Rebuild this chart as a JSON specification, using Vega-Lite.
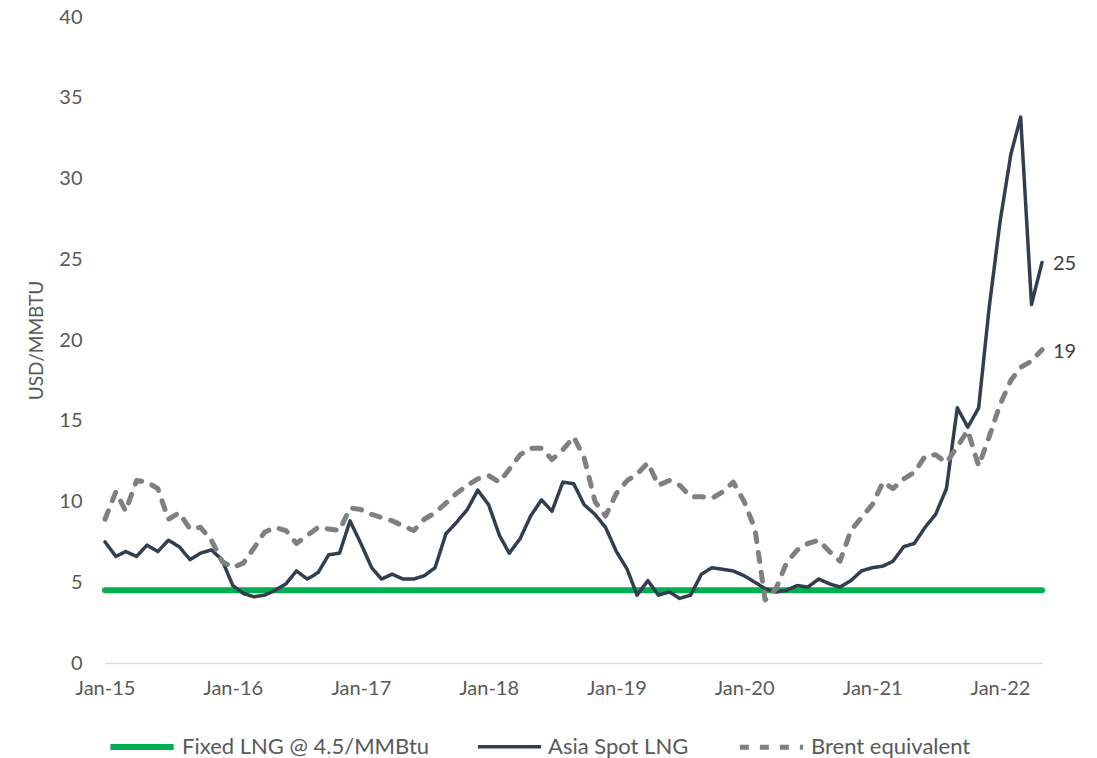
{
  "$schema": "https://vega.github.io/schema/vega-lite/v6.json",
  "width": 937,
  "height": 646,
  "autosize": {"type": "none"},
  "padding": {"left": 105, "top": 17, "right": 55, "bottom": 95},
  "background": "white",
  "config": {
    "view": {"stroke": null},
    "font": "Lato",
    "axis": {"labelFont": "Lato", "titleFont": "Lato", "labelColor": "#595959", "titleColor": "#595959", "grid": false, "ticks": false},
    "legend": {"labelFont": "Lato", "labelColor": "#595959"}
  },
  "data": {
    "values": [
      {"m": "2015-01-01", "fixed": 4.5, "asia": 7.5, "brent": 8.9},
      {"m": "2015-02-01", "fixed": 4.5, "asia": 6.6, "brent": 10.6},
      {"m": "2015-03-01", "fixed": 4.5, "asia": 6.9, "brent": 9.4},
      {"m": "2015-04-01", "fixed": 4.5, "asia": 6.6, "brent": 11.3},
      {"m": "2015-05-01", "fixed": 4.5, "asia": 7.3, "brent": 11.2},
      {"m": "2015-06-01", "fixed": 4.5, "asia": 6.9, "brent": 10.8},
      {"m": "2015-07-01", "fixed": 4.5, "asia": 7.6, "brent": 8.9},
      {"m": "2015-08-01", "fixed": 4.5, "asia": 7.2, "brent": 9.3},
      {"m": "2015-09-01", "fixed": 4.5, "asia": 6.4, "brent": 8.3},
      {"m": "2015-10-01", "fixed": 4.5, "asia": 6.8, "brent": 8.4},
      {"m": "2015-11-01", "fixed": 4.5, "asia": 7.0, "brent": 7.6},
      {"m": "2015-12-01", "fixed": 4.5, "asia": 6.4, "brent": 6.3},
      {"m": "2016-01-01", "fixed": 4.5, "asia": 4.8, "brent": 5.9},
      {"m": "2016-02-01", "fixed": 4.5, "asia": 4.3, "brent": 6.2},
      {"m": "2016-03-01", "fixed": 4.5, "asia": 4.1, "brent": 7.1},
      {"m": "2016-04-01", "fixed": 4.5, "asia": 4.2, "brent": 8.1},
      {"m": "2016-05-01", "fixed": 4.5, "asia": 4.5, "brent": 8.4},
      {"m": "2016-06-01", "fixed": 4.5, "asia": 4.9, "brent": 8.2},
      {"m": "2016-07-01", "fixed": 4.5, "asia": 5.7, "brent": 7.4},
      {"m": "2016-08-01", "fixed": 4.5, "asia": 5.2, "brent": 7.9},
      {"m": "2016-09-01", "fixed": 4.5, "asia": 5.6, "brent": 8.4},
      {"m": "2016-10-01", "fixed": 4.5, "asia": 6.7, "brent": 8.3},
      {"m": "2016-11-01", "fixed": 4.5, "asia": 6.8, "brent": 8.2},
      {"m": "2016-12-01", "fixed": 4.5, "asia": 8.8, "brent": 9.6},
      {"m": "2017-01-01", "fixed": 4.5, "asia": 7.4, "brent": 9.5},
      {"m": "2017-02-01", "fixed": 4.5, "asia": 5.9, "brent": 9.2},
      {"m": "2017-03-01", "fixed": 4.5, "asia": 5.2, "brent": 9.0},
      {"m": "2017-04-01", "fixed": 4.5, "asia": 5.5, "brent": 8.8},
      {"m": "2017-05-01", "fixed": 4.5, "asia": 5.2, "brent": 8.5},
      {"m": "2017-06-01", "fixed": 4.5, "asia": 5.2, "brent": 8.2},
      {"m": "2017-07-01", "fixed": 4.5, "asia": 5.4, "brent": 8.9},
      {"m": "2017-08-01", "fixed": 4.5, "asia": 5.9, "brent": 9.3},
      {"m": "2017-09-01", "fixed": 4.5, "asia": 8.0, "brent": 9.9},
      {"m": "2017-10-01", "fixed": 4.5, "asia": 8.7, "brent": 10.5},
      {"m": "2017-11-01", "fixed": 4.5, "asia": 9.5, "brent": 11.0},
      {"m": "2017-12-01", "fixed": 4.5, "asia": 10.7, "brent": 11.4},
      {"m": "2018-01-01", "fixed": 4.5, "asia": 9.8, "brent": 11.6},
      {"m": "2018-02-01", "fixed": 4.5, "asia": 7.9, "brent": 11.2},
      {"m": "2018-03-01", "fixed": 4.5, "asia": 6.8, "brent": 12.0},
      {"m": "2018-04-01", "fixed": 4.5, "asia": 7.7, "brent": 12.9},
      {"m": "2018-05-01", "fixed": 4.5, "asia": 9.1, "brent": 13.3},
      {"m": "2018-06-01", "fixed": 4.5, "asia": 10.1, "brent": 13.3},
      {"m": "2018-07-01", "fixed": 4.5, "asia": 9.4, "brent": 12.6},
      {"m": "2018-08-01", "fixed": 4.5, "asia": 11.2, "brent": 13.2},
      {"m": "2018-09-01", "fixed": 4.5, "asia": 11.1, "brent": 14.0},
      {"m": "2018-10-01", "fixed": 4.5, "asia": 9.8, "brent": 12.7},
      {"m": "2018-11-01", "fixed": 4.5, "asia": 9.2, "brent": 10.0},
      {"m": "2018-12-01", "fixed": 4.5, "asia": 8.4, "brent": 9.1},
      {"m": "2019-01-01", "fixed": 4.5, "asia": 6.9, "brent": 10.5},
      {"m": "2019-02-01", "fixed": 4.5, "asia": 5.8, "brent": 11.3},
      {"m": "2019-03-01", "fixed": 4.5, "asia": 4.2, "brent": 11.7},
      {"m": "2019-04-01", "fixed": 4.5, "asia": 5.1, "brent": 12.4},
      {"m": "2019-05-01", "fixed": 4.5, "asia": 4.2, "brent": 11.0},
      {"m": "2019-06-01", "fixed": 4.5, "asia": 4.4, "brent": 11.3},
      {"m": "2019-07-01", "fixed": 4.5, "asia": 4.0, "brent": 11.0},
      {"m": "2019-08-01", "fixed": 4.5, "asia": 4.2, "brent": 10.3},
      {"m": "2019-09-01", "fixed": 4.5, "asia": 5.5, "brent": 10.3},
      {"m": "2019-10-01", "fixed": 4.5, "asia": 5.9, "brent": 10.2},
      {"m": "2019-11-01", "fixed": 4.5, "asia": 5.8, "brent": 10.6},
      {"m": "2019-12-01", "fixed": 4.5, "asia": 5.7, "brent": 11.2},
      {"m": "2020-01-01", "fixed": 4.5, "asia": 5.4, "brent": 10.0},
      {"m": "2020-02-01", "fixed": 4.5, "asia": 5.0, "brent": 8.3},
      {"m": "2020-03-01", "fixed": 4.5, "asia": 4.6, "brent": 3.9},
      {"m": "2020-04-01", "fixed": 4.5, "asia": 4.4, "brent": 4.6},
      {"m": "2020-05-01", "fixed": 4.5, "asia": 4.5, "brent": 6.2},
      {"m": "2020-06-01", "fixed": 4.5, "asia": 4.8, "brent": 7.0},
      {"m": "2020-07-01", "fixed": 4.5, "asia": 4.7, "brent": 7.4},
      {"m": "2020-08-01", "fixed": 4.5, "asia": 5.2, "brent": 7.6},
      {"m": "2020-09-01", "fixed": 4.5, "asia": 4.9, "brent": 6.9},
      {"m": "2020-10-01", "fixed": 4.5, "asia": 4.7, "brent": 6.3},
      {"m": "2020-11-01", "fixed": 4.5, "asia": 5.1, "brent": 8.2},
      {"m": "2020-12-01", "fixed": 4.5, "asia": 5.7, "brent": 9.0},
      {"m": "2021-01-01", "fixed": 4.5, "asia": 5.9, "brent": 9.8},
      {"m": "2021-02-01", "fixed": 4.5, "asia": 6.0, "brent": 11.2},
      {"m": "2021-03-01", "fixed": 4.5, "asia": 6.3, "brent": 10.8},
      {"m": "2021-04-01", "fixed": 4.5, "asia": 7.2, "brent": 11.4},
      {"m": "2021-05-01", "fixed": 4.5, "asia": 7.4, "brent": 11.8},
      {"m": "2021-06-01", "fixed": 4.5, "asia": 8.4, "brent": 12.8},
      {"m": "2021-07-01", "fixed": 4.5, "asia": 9.2, "brent": 12.9},
      {"m": "2021-08-01", "fixed": 4.5, "asia": 10.8, "brent": 12.4},
      {"m": "2021-09-01", "fixed": 4.5, "asia": 15.8, "brent": 13.4},
      {"m": "2021-10-01", "fixed": 4.5, "asia": 14.6, "brent": 14.4},
      {"m": "2021-11-01", "fixed": 4.5, "asia": 15.8, "brent": 12.2},
      {"m": "2021-12-01", "fixed": 4.5, "asia": 22.0, "brent": 14.0},
      {"m": "2022-01-01", "fixed": 4.5, "asia": 27.3, "brent": 16.0},
      {"m": "2022-02-01", "fixed": 4.5, "asia": 31.5, "brent": 17.5},
      {"m": "2022-03-01", "fixed": 4.5, "asia": 33.8, "brent": 18.3},
      {"m": "2022-04-01", "fixed": 4.5, "asia": 22.2, "brent": 18.7},
      {"m": "2022-05-01", "fixed": 4.5, "asia": 24.8, "brent": 19.4}
    ]
  },
  "transform": [
    {"fold": ["fixed", "asia", "brent"], "as": ["series", "value"]}
  ],
  "layer": [
    {
      "mark": {"type": "line", "strokeCap": "round", "strokeJoin": "round", "interpolate": "linear"},
      "encoding": {
        "x": {
          "field": "m", "type": "temporal",
          "scale": {"type": "utc", "domain": [{"year": 2015, "month": 1, "date": 1, "utc": true}, {"year": 2022, "month": 5, "date": 1, "utc": true}]},
          "axis": {
            "title": null,
            "format": "%b-%y",
            "values": [
              {"year": 2015, "month": 1, "date": 1, "utc": true},
              {"year": 2016, "month": 1, "date": 1, "utc": true},
              {"year": 2017, "month": 1, "date": 1, "utc": true},
              {"year": 2018, "month": 1, "date": 1, "utc": true},
              {"year": 2019, "month": 1, "date": 1, "utc": true},
              {"year": 2020, "month": 1, "date": 1, "utc": true},
              {"year": 2021, "month": 1, "date": 1, "utc": true},
              {"year": 2022, "month": 1, "date": 1, "utc": true}
            ],
            "labelFontSize": 20,
            "labelPadding": 15,
            "labelFlush": false,
            "labelOverlap": false,
            "domainColor": "#d9d9d9",
            "domainWidth": 1.5
          }
        },
        "y": {
          "field": "value", "type": "quantitative",
          "scale": {"domain": [0, 40], "nice": false},
          "axis": {
            "title": "USD/MMBTU",
            "values": [0, 5, 10, 15, 20, 25, 30, 35, 40],
            "domain": false,
            "labelFontSize": 20,
            "labelPadding": 23,
            "titleFontSize": 19,
            "titleFontWeight": "normal",
            "titlePadding": 12
          }
        },
        "color": {
          "field": "series", "type": "nominal",
          "scale": {"domain": ["fixed", "asia", "brent"], "range": ["#00B050", "#323E4F", "#808080"]},
          "legend": {
            "title": null,
            "orient": "none",
            "direction": "horizontal",
            "legendX": 2,
            "legendY": 695,
            "symbolType": "stroke",
            "symbolSize": 4000,
            "labelFontSize": 22,
            "labelLimit": 400,
            "labelOffset": 5,
            "columnPadding": 40,
            "labelExpr": "datum.label == 'fixed' ? 'Fixed LNG @ 4.5/MMBtu' : datum.label == 'asia' ? 'Asia Spot LNG' : 'Brent equivalent'"
          }
        },
        "strokeDash": {
          "field": "series", "type": "nominal",
          "scale": {"domain": ["fixed", "asia", "brent"], "range": [[1, 0], [1, 0], [9, 11]]},
          "legend": null
        },
        "strokeWidth": {
          "field": "series", "type": "nominal",
          "scale": {"type": "ordinal", "domain": ["fixed", "asia", "brent"], "range": [6, 3.5, 5]},
          "legend": null
        }
      }
    },
    {
      "transform": [
        {"filter": "datum.series != 'fixed'"},
        {"aggregate": [{"op": "argmax", "field": "m", "as": "last"}], "groupby": ["series"]}
      ],
      "mark": {"type": "text", "align": "left", "baseline": "middle", "dx": 11, "dy": 2, "fontSize": 20, "color": "#404040", "font": "Lato"},
      "encoding": {
        "x": {"field": "last.m", "type": "temporal"},
        "y": {"field": "last.value", "type": "quantitative"},
        "text": {"field": "last.value", "type": "quantitative", "format": ".0f"}
      }
    }
  ]
}
